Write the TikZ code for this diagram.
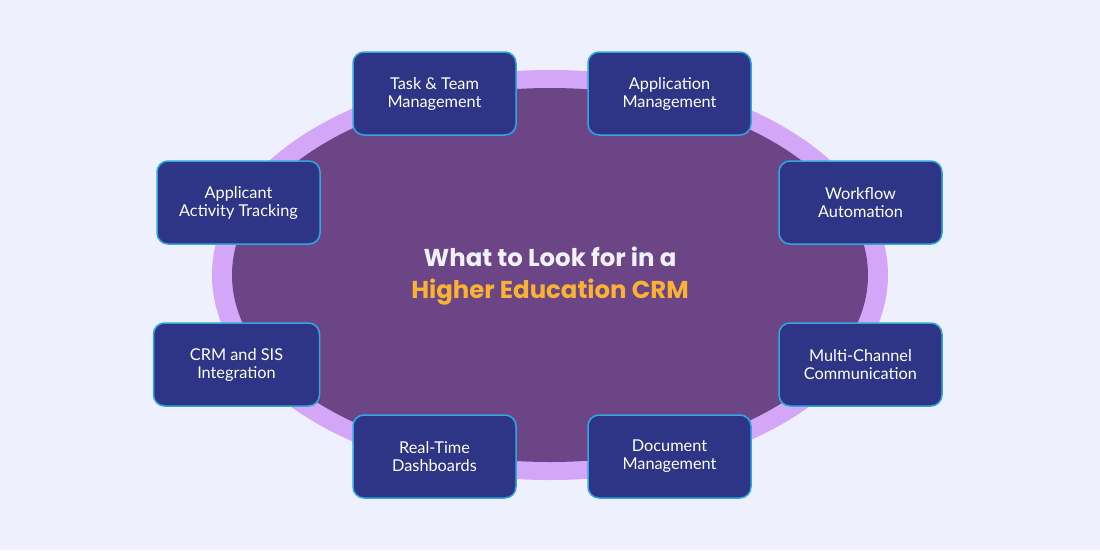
\documentclass[tikz,border=0pt]{standalone}
\usepackage{fontspec}
\setmainfont{Poppins}
\newfontfamily\boxfont{Lato}
\definecolor{bgc}{HTML}{EFF0FD}
\definecolor{ringc}{HTML}{D3A6F8}
\definecolor{innerc}{HTML}{6C4587}
\definecolor{boxc}{HTML}{2E3586}
\definecolor{boxb}{HTML}{2FA8E0}
\definecolor{titlew}{HTML}{F2F0FA}
\definecolor{titleo}{HTML}{F9B233}
\begin{document}
\begin{tikzpicture}[x=1pt,y=-1pt,
  featbox/.style={draw=boxb,line width=1.5pt,fill=boxc,rounded corners=11pt,
    minimum width=163pt,minimum height=83pt,align=center,text=white,
    font=\boxfont\fontsize{16.3}{18}\selectfont}]
\fill[bgc] (0,0) rectangle (1100,550);
\useasboundingbox (0,0) rectangle (1100,550);
\fill[ringc] (550,275) ellipse [x radius=338, y radius=205];
\fill[innerc] (550,275) ellipse [x radius=318, y radius=187];
\node[align=center,font=\bfseries\fontsize{24.4}{32}\selectfont] (title) at (550,276)
  {\textcolor{titlew}{What to Look for in a}\\\textcolor{titleo}{Higher Education CRM}};
\node[featbox] (task) at (434.5,93.5) {Task \& Team\\Management};
\node[featbox] (app) at (669.5,93.5) {Application\\Management};
\node[featbox] (track) at (238.5,202.5) {Applicant\\Activity Tracking};
\node[featbox] (flow) at (860.5,202.5) {Workflow\\Automation};
\node[featbox,minimum width=166pt] (sis) at (236.5,364.5) {CRM and SIS\\Integration};
\node[featbox] (multi) at (860.5,364.5) {Multi-Channel\\Communication};
\node[featbox] (dash) at (434.5,456.5) {Real-Time\\Dashboards};
\node[featbox] (doc) at (669.5,456.5) {Document\\Management};
\end{tikzpicture}
\end{document}
